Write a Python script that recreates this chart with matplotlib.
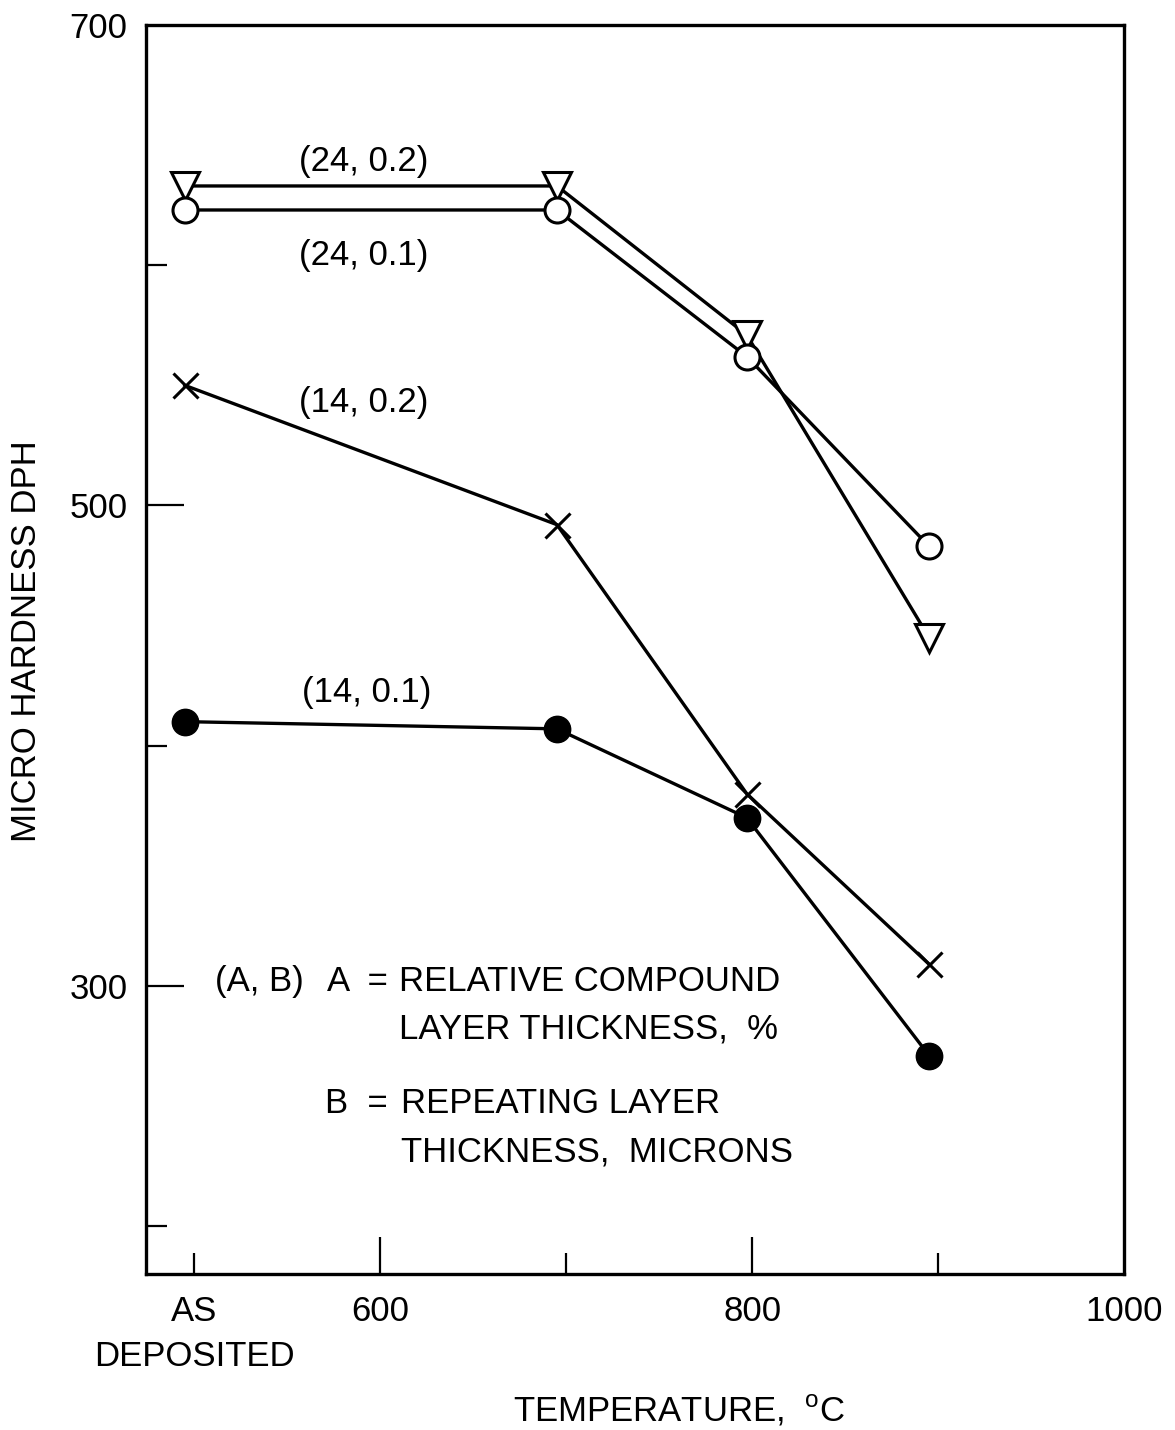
# coding:utf-8

import matplotlib
matplotlib.use('Agg')
import matplotlib.pyplot as plt

# temperatures, 500 stands for "as deposited"
temps = [495, 695, 797, 895]

hard_24_02 = [633, 633, 571, 445]
hard_24_01 = [623, 623, 562, 483]
hard_14_02 = [550, 492, 380, 309]
hard_14_01 = [410, 407, 370, 271]

xtick_major = [500, 600, 800, 1000]
xtick_major_labels = ['AS\nDEPOSITED', '600', '800', '1000']
xtick_minor = [700, 900]
ytick_major = [300, 500, 700]
ytick_minor = [200, 400, 600]

plt.rcParams['font.family'] = ['Liberation Sans', 'DejaVu Sans']
plt.rcParams['font.size'] = 25


def main():
    fig = plt.figure(figsize=(11.75, 14.3), dpi=100)
    ax = fig.add_axes([0.124, 0.109, 0.833, 0.8735])

    lw = 2.4
    ax.plot(temps, hard_24_02, color='black', lw=lw, marker='v', ms=20,
            mfc='white', mec='black', mew=2.2)
    ax.plot(temps, hard_24_01, color='black', lw=lw, marker='o', ms=18,
            mfc='white', mec='black', mew=2.2)
    ax.plot(temps, hard_14_02, color='black', lw=lw, marker='x', ms=18,
            mew=2.2)
    ax.plot(temps, hard_14_01, color='black', lw=lw, marker='o', ms=19,
            mfc='black', mec='black')

    ax.text(591, 643, '(24, 0.2)', ha='center', va='center')
    ax.text(591, 604, '(24, 0.1)', ha='center', va='center')
    ax.text(591, 543, '(14, 0.2)', ha='center', va='center')
    ax.text(593, 422, '(14, 0.1)', ha='center', va='center')

    ax.text(511, 302, '(A, B)', ha='left', va='center')
    ax.text(604, 302, 'A  =', ha='right', va='center')
    ax.text(610, 302, 'RELATIVE COMPOUND', ha='left', va='center')
    ax.text(610, 282, 'LAYER THICKNESS,  %', ha='left', va='center')
    ax.text(604, 251, 'B  =', ha='right', va='center')
    ax.text(611, 251, 'REPEATING LAYER', ha='left', va='center')
    ax.text(611, 231, 'THICKNESS,  MICRONS', ha='left', va='center')

    ax.set_xlim(474, 1000)
    ax.set_ylim(180, 700)

    ax.set_xticks(xtick_major)
    ax.set_xticklabels(xtick_major_labels, linespacing=1.45)
    ax.set_xticks(xtick_minor, minor=True)
    ax.set_yticks(ytick_major)
    ax.set_yticks(ytick_minor, minor=True)

    ax.tick_params(axis='both', which='major', direction='in', length=27,
                   width=1.6, pad=15)
    ax.tick_params(axis='both', which='minor', direction='in', length=15,
                   width=1.6)
    ax.tick_params(axis='y', which='major', pad=13)
    # "AS DEPOSITED" tick is short in the original
    ax.xaxis.get_major_ticks()[0].tick1line.set_markersize(15)
    ax.xaxis.get_major_ticks()[-1].tick1line.set_visible(False)
    ax.yaxis.get_major_ticks()[-1].tick1line.set_visible(False)

    for s in ax.spines.values():
        s.set_linewidth(2.4)

    ax.set_ylabel('MICRO HARDNESS DPH')
    ax.yaxis.set_label_coords(-0.105, 0.507)
    ax.set_xlabel('TEMPERATURE,  $^{\\mathregular{o}}$C')
    ax.xaxis.set_label_coords(0.545, -0.095)

    fig.savefig('out.png', dpi=100)


if __name__ == '__main__':
    main()
